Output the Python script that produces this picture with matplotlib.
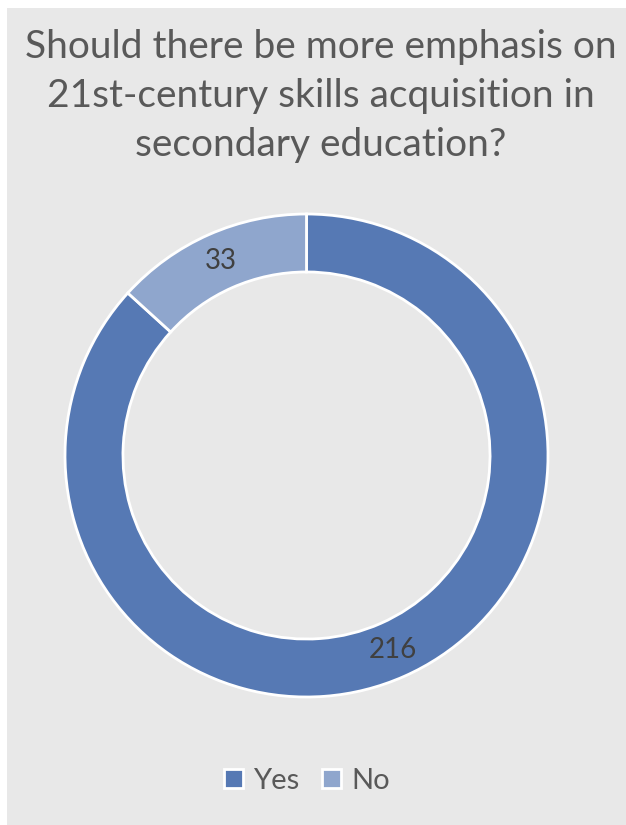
import matplotlib.pyplot as plt
from matplotlib.patches import Rectangle

TITLE = 'Should there be more emphasis on\n21st-century skills acquisition in\nsecondary education?'
answers = ['Yes', 'No']
counts = [216, 33]
colors = ['#5679b4', '#8fa6cd']

plt.rcParams['font.family'] = ['Lato', 'DejaVu Sans']

fig = plt.figure(figsize=(6.26, 8.25), dpi=100)
fig.patch.set_facecolor('white')
# chart area panel (thin white margin at left and top)
fig.patches.append(Rectangle((7 / 626, 0), 1 - 7 / 626, 1 - 8 / 825,
                             transform=fig.transFigure, facecolor='#e8e8e8',
                             edgecolor='none', zorder=-5))

fig.text(321 / 626, 1 - 29 / 825, TITLE, ha='center', va='top',
         fontsize=28, color='#595959', linespacing=1.45)

ax = fig.add_axes([65 / 626, 1 - 697 / 825, 483 / 626, 483 / 825])
ax.set_zorder(2)
wedges, texts, autotexts = ax.pie(
    counts, colors=colors, startangle=90, counterclock=False,
    wedgeprops=dict(width=0.24, edgecolor='white', linewidth=2),
    autopct=lambda p: '{:.0f}'.format(p * sum(counts) / 100),
    pctdistance=0.88, textprops=dict(fontsize=20, color='#404040'))
ax.set_xlim(-1.0, 1.0)
ax.set_ylim(-1.0, 1.0)
ax.set_aspect('equal')
ax.axis('off')

fig.legend(wedges, answers, loc='center', bbox_to_anchor=(307 / 626, 1 - 781 / 825),
           ncol=2, frameon=False, fontsize=21, labelcolor='#595959',
           handlelength=0.65, handleheight=0.65, handletextpad=0.35,
           columnspacing=0.8)

fig.savefig('out.png', dpi=100)
